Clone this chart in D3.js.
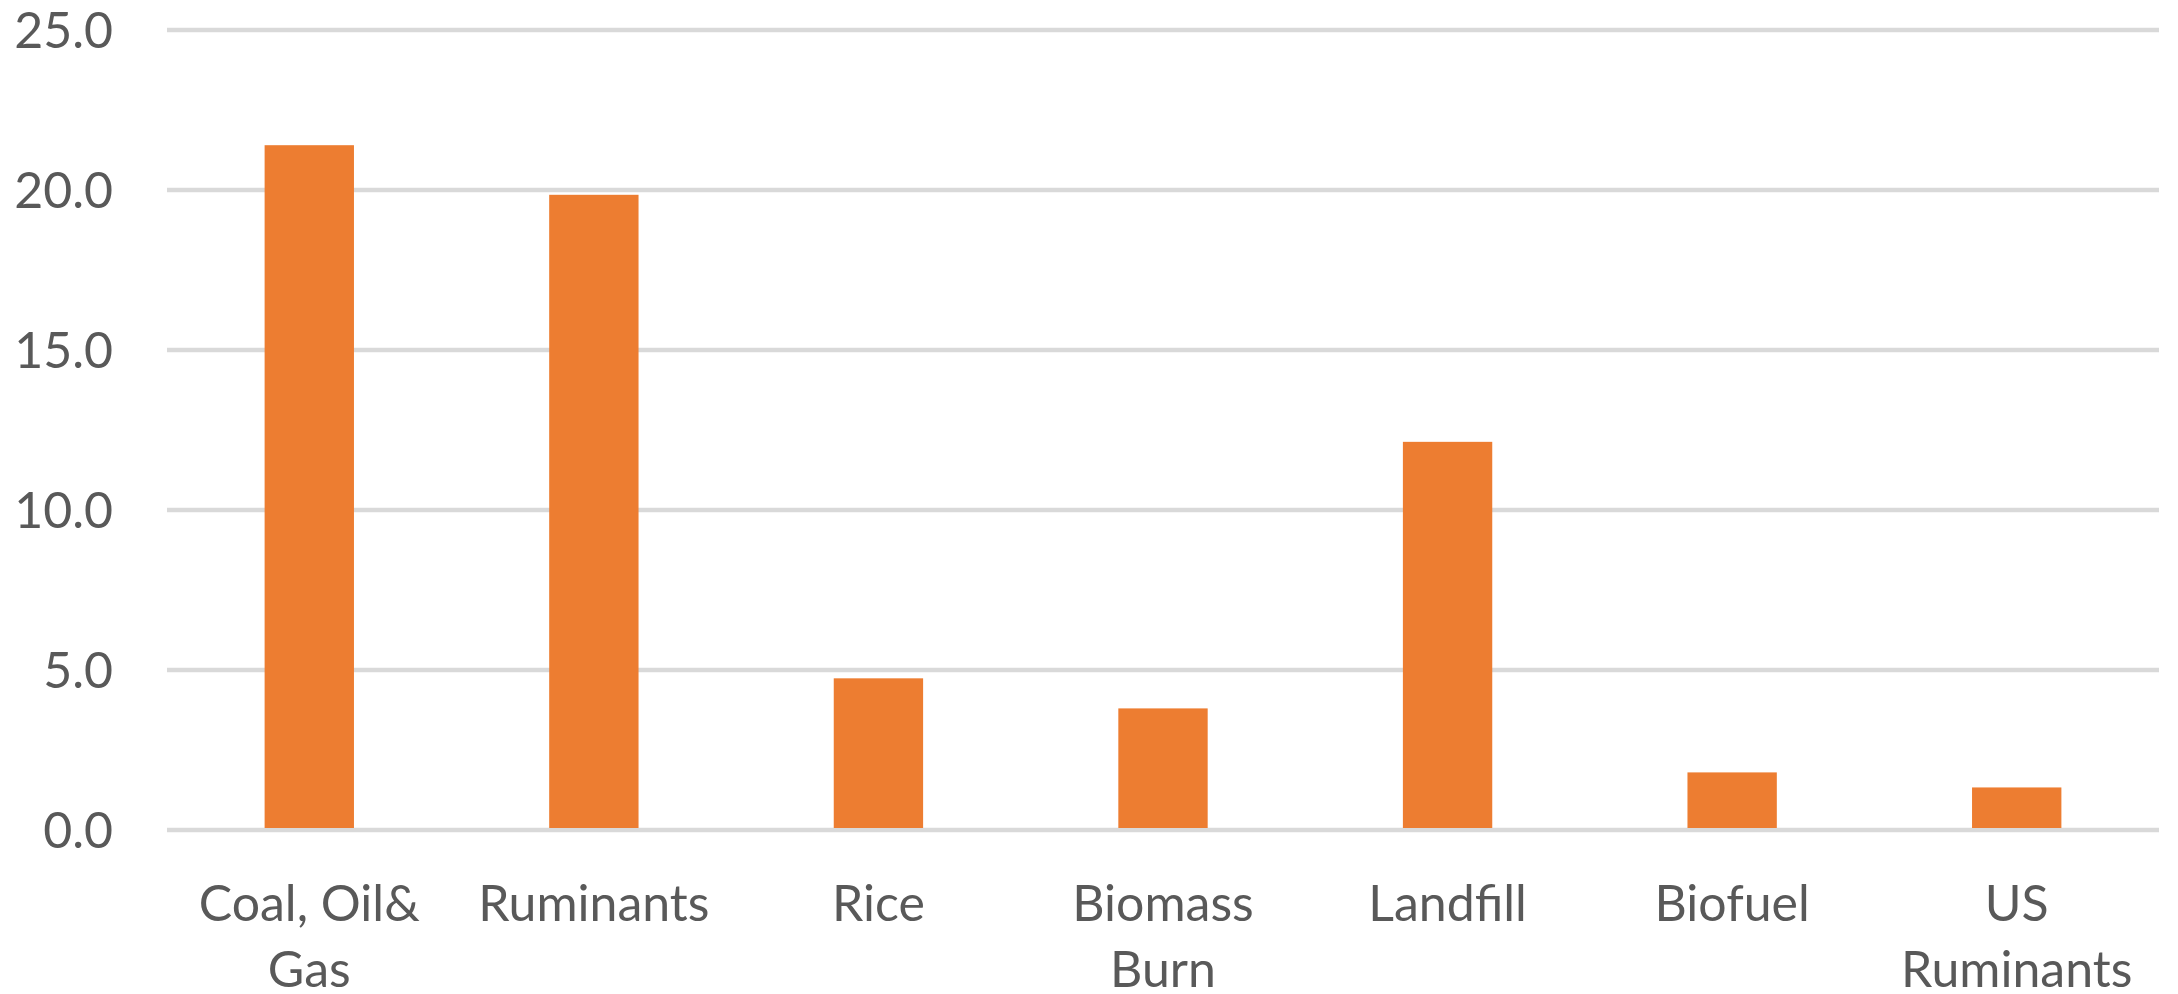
<!DOCTYPE html>
<html>
<head>
<meta charset="utf-8">
<script src="https://cdn.jsdelivr.net/npm/d3@7"></script>
<style>
  body { margin: 0; background: #fff; }
  svg text { font-family: Lato, "Open Sans", sans-serif; fill: #595959; }
</style>
</head>
<body>
<div id="chart"></div>
<script>
// data
const categories = ['Coal, Oil& Gas', 'Ruminants', 'Rice', 'Biomass Burn', 'Landfill', 'Biofuel', 'US Ruminants'];
const labelLines = [['Coal, Oil&', 'Gas'], ['Ruminants'], ['Rice'], ['Biomass', 'Burn'], ['Landfill'], ['Biofuel'], ['US', 'Ruminants']];
const values = [21.4, 19.85, 4.74, 3.8, 12.13, 1.8, 1.33];
const yTicks = [0, 5, 10, 15, 20, 25];

const width = 2178;
const height = 994;
const margin = { top: 30, right: 19, bottom: 164, left: 167 };

const svg = d3.select('#chart')
    .append('svg')
    .attr('width', width)
    .attr('height', height);

const xScale = d3.scaleBand()
    .domain(categories)
    .range([margin.left, width - margin.right])
    .paddingInner(0.686)
    .paddingOuter(0.343);

const yScale = d3.scaleLinear()
    .domain([0, 25])
    .range([height - margin.bottom, margin.top]);

// gridlines
svg.append('g')
    .attr('class', 'gridlines')
    .selectAll('line')
    .data(yTicks)
    .join('line')
    .attr('x1', margin.left)
    .attr('x2', width - margin.right)
    .attr('y1', (d) => yScale(d))
    .attr('y2', (d) => yScale(d))
    .attr('stroke', '#d9d9d9')
    .attr('stroke-width', 4.5);

// y tick labels
svg.append('g')
    .selectAll('text')
    .data(yTicks)
    .join('text')
    .attr('x', 113)
    .attr('y', (d) => yScale(d))
    .attr('dy', '0.36em')
    .attr('text-anchor', 'end')
    .style('font-size', '50px')
    .text((d) => d3.format('.1f')(d));

// bars
svg.append('g')
    .selectAll('rect')
    .data(values)
    .join('rect')
    .attr('x', (d, i) => xScale(categories[i]))
    .attr('y', (d) => yScale(d))
    .attr('width', xScale.bandwidth())
    .attr('height', (d) => yScale(0) - yScale(d) - 2)
    .attr('fill', '#ed7d31');

// category labels
const labels = svg.append('g')
    .selectAll('text')
    .data(categories)
    .join('text')
    .attr('text-anchor', 'middle')
    .style('font-size', '50px')
    .attr('x', (d) => xScale(d) + xScale.bandwidth() / 2)
    .attr('y', 921);

labels.each(function (d, i) {
    d3.select(this)
      .selectAll('tspan')
      .data(labelLines[i])
      .join('tspan')
      .attr('x', xScale(d) + xScale.bandwidth() / 2)
      .attr('dy', (t, j) => (j === 0 ? 0 : 66))
      .text((t) => t);
});
</script>
</body>
</html>
